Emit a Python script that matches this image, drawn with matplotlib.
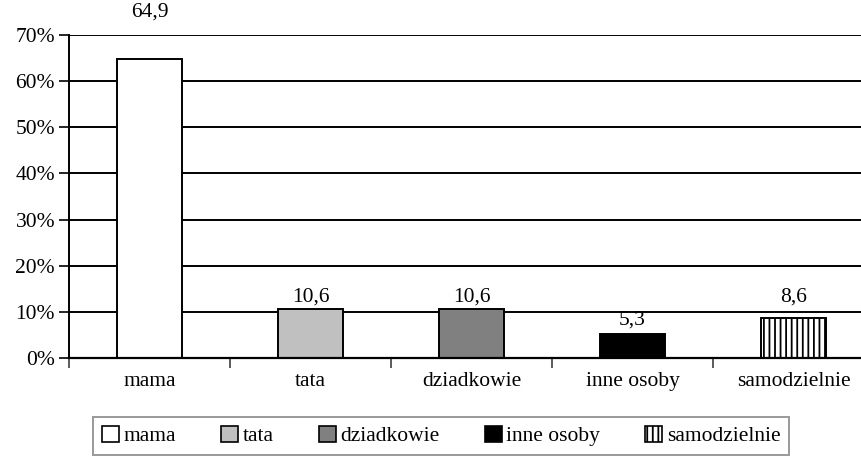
import numpy as np
import matplotlib.pyplot as plt
from matplotlib.patches import Patch

plt.rcParams['font.family'] = ['Liberation Serif', 'DejaVu Serif']
plt.rcParams['hatch.linewidth'] = 1.3

# Data
categories = ["mama", "tata", "dziadkowie", "inne osoby", "samodzielnie"]
values = [64.9, 10.6, 10.6, 5.3, 8.6]
value_labels = ["64,9", "10,6", "10,6", "5,3", "8,6"]
yticks = [0, 10, 20, 30, 40, 50, 60, 70]

colors = ["white", "#C0C0C0", "#808080", "black", "white"]
hatches = [None, None, None, None, "|||"]
label_y = [75.0, 13.2, 13.2, 8.2, 13.2]  # where Excel put the data labels

fs = 15.5

fig = plt.figure(figsize=(8.62, 4.58), dpi=100)
ax = fig.add_axes([69 / 862, 100 / 458, 805 / 862, 323 / 458])

x = np.arange(len(categories))
bars = ax.bar(x, values, width=0.4, color=colors, edgecolor="black",
              linewidth=1.4, zorder=3)
for b, h in zip(bars, hatches):
    if h:
        b.set_hatch(h)

for xi, lab, ly in zip(x, value_labels, label_y):
    ax.text(xi, ly, lab, ha="center", va="center", fontsize=fs)

ax.set_xlim(-0.5, len(categories) - 0.5)
ax.set_ylim(0, 70)
ax.set_yticks(yticks)
ax.set_yticklabels([f"{t}%" for t in yticks], fontsize=fs)
ax.yaxis.grid(True, color="black", linewidth=1.4, zorder=0)

ax.set_xticks(x)
ax.set_xticklabels(categories, fontsize=fs)
ax.set_xticks(np.arange(-0.5, len(categories) - 0.4, 1), minor=True)
ax.tick_params(axis="x", which="major", length=0, pad=10)
ax.tick_params(axis="x", which="minor", length=7, width=1.2, color="#404040")
ax.tick_params(axis="y", length=7, width=1.2, pad=3)

for s in ["top", "right"]:
    ax.spines[s].set_visible(False)
ax.spines["left"].set_linewidth(1.4)
ax.spines["bottom"].set_linewidth(1.6)
ax.spines["bottom"].set_zorder(4)

handles = [Patch(facecolor=c, edgecolor="black", hatch=h, linewidth=1.2)
           for c, h in zip(colors, hatches)]
leg = fig.legend(handles, categories, loc="upper left",
                 bbox_to_anchor=(93 / 862, 1 - 417 / 458), ncol=5,
                 fontsize=fs, frameon=True, fancybox=False,
                 handlelength=0.8, handleheight=0.8, handletextpad=0.2,
                 columnspacing=2.1, borderpad=0.4, borderaxespad=0)
leg.get_frame().set_edgecolor("#808080")
leg.get_frame().set_linewidth(1.4)

fig.savefig("out.png", dpi=100)
